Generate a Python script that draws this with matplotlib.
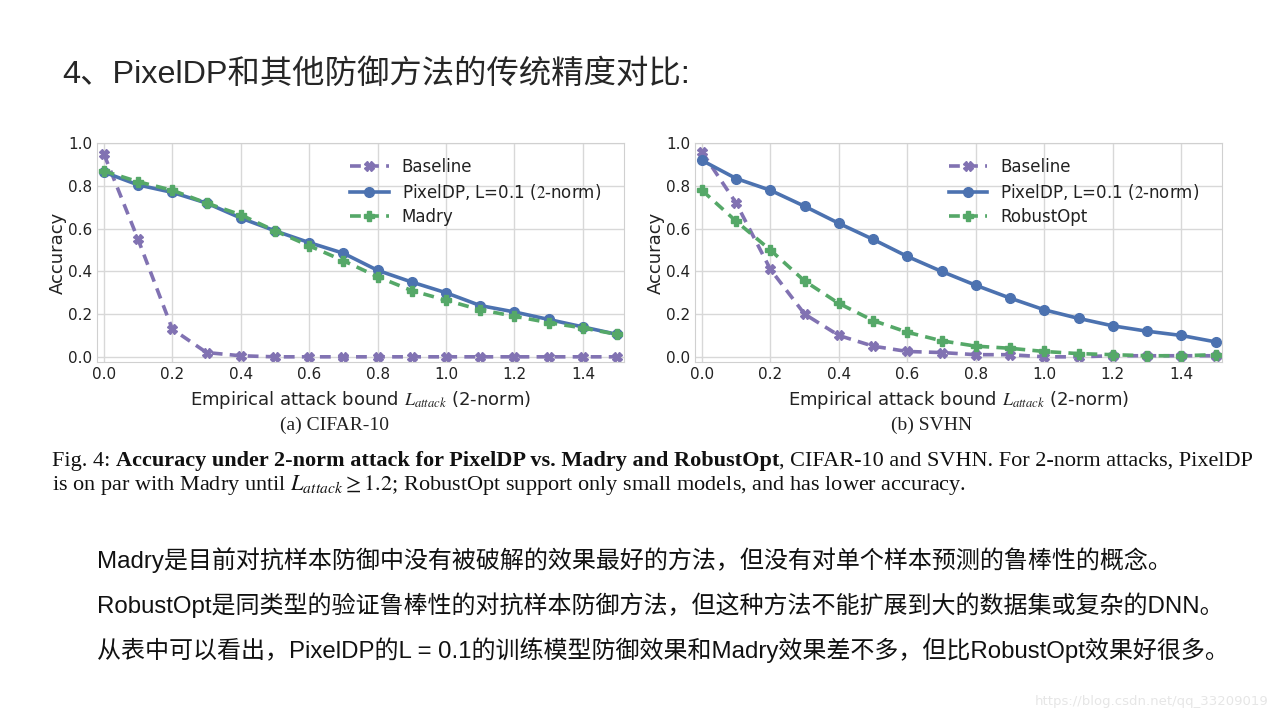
import matplotlib
matplotlib.use("Agg")
import matplotlib.pyplot as plt
import numpy as np

# ---- data ----
bounds = [0.0, 0.1, 0.2, 0.3, 0.4, 0.5, 0.6, 0.7, 0.8, 0.9, 1.0, 1.1, 1.2, 1.3, 1.4, 1.5]

cifar_baseline = [0.95, 0.55, 0.13, 0.02, 0.005, 0.0, 0.0, 0.0, 0.0, 0.0, 0.0, 0.0, 0.0, 0.0, 0.0, 0.0]
cifar_pixeldp = [0.865, 0.805, 0.77, 0.72, 0.65, 0.59, 0.535, 0.485, 0.405, 0.35, 0.30, 0.24, 0.21, 0.175, 0.14, 0.105]
cifar_madry = [0.87, 0.82, 0.78, 0.72, 0.665, 0.59, 0.52, 0.45, 0.375, 0.31, 0.265, 0.22, 0.19, 0.16, 0.135, 0.105]

svhn_baseline = [0.96, 0.72, 0.41, 0.20, 0.10, 0.05, 0.025, 0.02, 0.01, 0.01, 0.0, 0.0, 0.005, 0.005, 0.005, 0.005]
svhn_pixeldp = [0.92, 0.835, 0.78, 0.705, 0.625, 0.55, 0.47, 0.40, 0.335, 0.275, 0.22, 0.18, 0.145, 0.12, 0.10, 0.07]
svhn_robustopt = [0.78, 0.635, 0.50, 0.355, 0.25, 0.17, 0.115, 0.075, 0.05, 0.04, 0.025, 0.015, 0.01, 0.005, 0.005, 0.01]

xticks = [0.0, 0.2, 0.4, 0.6, 0.8, 1.0, 1.2, 1.4]
yticks = [0.0, 0.2, 0.4, 0.6, 0.8, 1.0]

PURPLE = '#8172B2'
BLUE = '#4C72B0'
GREEN = '#55A868'

plt.rcParams['mathtext.fontset'] = 'stix'
slide_font = ['Liberation Sans', 'Noto Sans CJK SC', 'DejaVu Sans']
serif = ['Liberation Serif', 'DejaVu Serif']

fig = plt.figure(figsize=(12.8, 7.2), dpi=100)
fig.patch.set_facecolor('white')


def draw_panel(ax, baseline, pixeldp, other, other_label, sub, sub_x):
    ax.plot(bounds, baseline, color=PURPLE, linestyle='--', linewidth=2.6,
            marker='X', markersize=7, label='Baseline', dashes=(3, 2))
    ax.plot(bounds, pixeldp, color=BLUE, linestyle='-', linewidth=2.6,
            marker='o', markersize=7, label='PixelDP, L=0.1 ($2$-norm)')
    ax.plot(bounds, other, color=GREEN, linestyle='--', linewidth=2.6,
            marker='P', markersize=7, label=other_label, dashes=(3, 2))
    ax.set_xlim(-0.02, 1.52)
    ax.set_ylim(-0.025, 1.0)
    ax.set_xticks(xticks)
    ax.set_yticks(yticks)
    ax.tick_params(labelsize=11, length=0, colors='#222222')
    ax.grid(True, color='#d8d8d8', linewidth=1)
    for s in ax.spines.values():
        s.set_color('#d0d0d0')
    ax.set_ylabel('Accuracy', fontsize=13, color='#222222', labelpad=1)
    ax.set_xlabel('Empirical attack bound $L_{attack}$ (2-norm)', fontsize=13,
                  color='#222222', labelpad=5)
    leg = ax.legend(loc='upper right', frameon=False, fontsize=12,
                    handlelength=2.3, labelspacing=0.35, borderaxespad=0.5,
                    bbox_to_anchor=(0.985, 1.0))
    for t in leg.get_texts():
        t.set_color('#222222')
    fig.text(sub_x / 1280, 1 - 425 / 720, sub, ha='center', va='center',
             fontsize=14, family=serif, color='#222222')


ax1 = fig.add_axes([0.0758, 0.497, 0.4117, 0.304])
draw_panel(ax1, cifar_baseline, cifar_pixeldp, cifar_madry, 'Madry', '(a) CIFAR-10', 335)
ax2 = fig.add_axes([0.543, 0.497, 0.412, 0.304])
draw_panel(ax2, svhn_baseline, svhn_pixeldp, svhn_robustopt, 'RobustOpt', '(b) SVHN', 932)

# slide title
fig.text(62 / 1280, 1 - 75 / 720, '4、PixelDP和其他防御方法的传统精度对比:', fontsize=23.3,
         family=slide_font, color='#262626', va='center', ha='left')

# figure caption, built from pieces
cap_size = 16
y1 = 1 - 466 / 720
y2 = 1 - 490 / 720
t1 = fig.text(52 / 1280, y1, 'Fig. 4: ', fontsize=cap_size, family=serif,
              va='baseline', color='#111111')
t2 = fig.text(0, 0, 'Accuracy under 2-norm attack for PixelDP vs. Madry and RobustOpt',
              fontsize=cap_size, family=serif, weight='bold', va='baseline', color='#111111')
t3 = fig.text(0, 0, ', CIFAR-10 and SVHN. For 2-norm attacks, PixelDP',
              fontsize=cap_size, family=serif, va='baseline', color='#111111')
fig.canvas.draw()
r = fig.canvas.get_renderer()
inv = fig.transFigure.inverted()
x = inv.transform(t1.get_window_extent(r))[1][0]
t2.set_position((x, y1))
fig.canvas.draw()
x = inv.transform(t2.get_window_extent(r))[1][0]
t3.set_position((x, y1))
fig.text(52 / 1280, y2,
         'is on par with Madry until $L_{attack} \\geq 1.2$; RobustOpt support only small models, and has lower accuracy.',
         fontsize=cap_size, family=serif, va='baseline', color='#111111')

# body text
body = [
    'Madry是目前对抗样本防御中没有被破解的效果最好的方法，但没有对单个样本预测的鲁棒性的概念。',
    'RobustOpt是同类型的验证鲁棒性的对抗样本防御方法，但这种方法不能扩展到大的数据集或复杂的DNN。',
    '从表中可以看出，PixelDP的L = 0.1的训练模型防御效果和Madry效果差不多，但比RobustOpt效果好很多。',
]
for i, line in enumerate(body):
    fig.text(97 / 1280, 1 - (560 + 45 * i) / 720, line, fontsize=17.3, family=slide_font,
             color='#111111', va='center', ha='left')

fig.text(1268 / 1280, 1 - 702 / 720, 'https://blog.csdn.net/qq_33209019', fontsize=9.5,
         color='#e6e6e6', ha='right', va='center')

fig.savefig('out.png', dpi=100, facecolor='white')
